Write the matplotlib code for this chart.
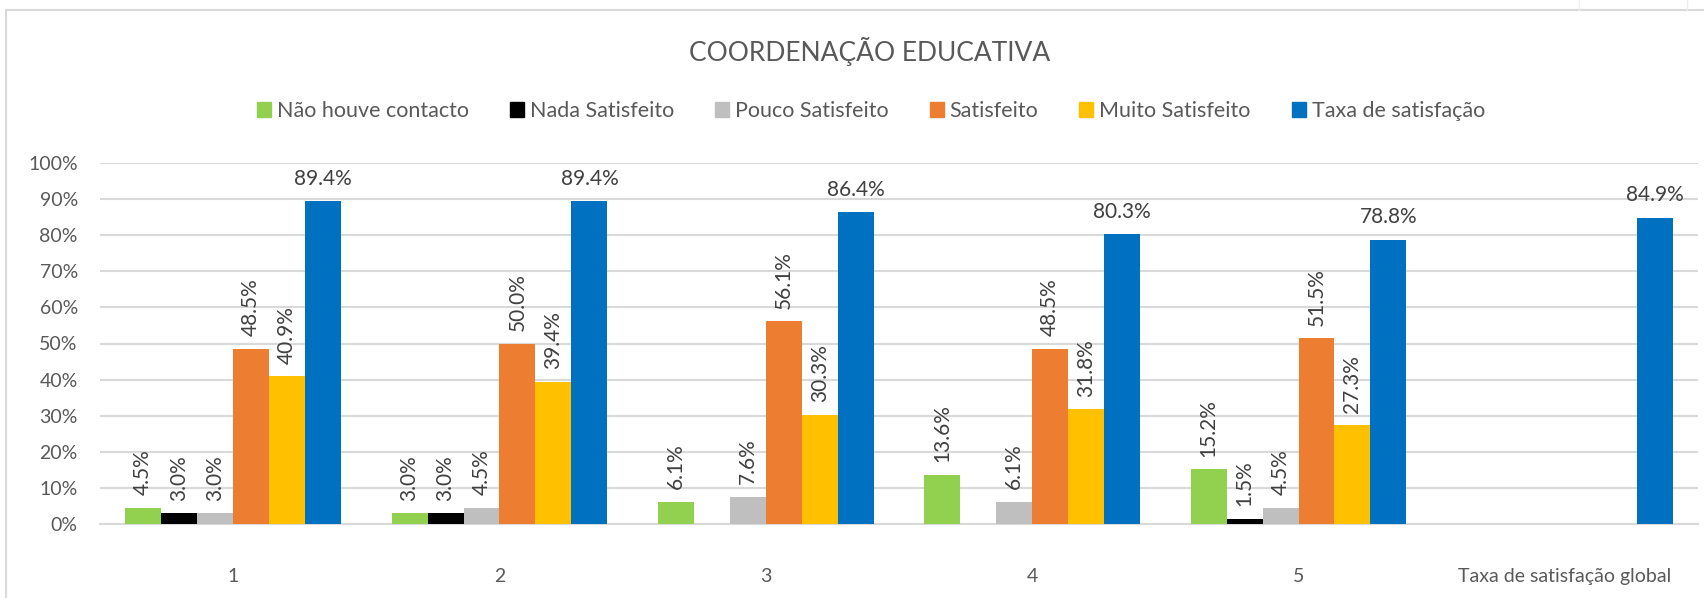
import numpy as np
import matplotlib.pyplot as plt
from matplotlib.patches import Rectangle
from matplotlib.lines import Line2D

plt.rcParams['font.family'] = ['Lato', 'DejaVu Sans']

# data (fractions, None = no bar)
categories = ["1", "2", "3", "4", "5", "Taxa de satisfação global"]
series_names = ["Não houve contacto", "Nada Satisfeito", "Pouco Satisfeito",
                "Satisfeito", "Muito Satisfeito", "Taxa de satisfação"]
nao_houve = [0.045, 0.030, 0.061, 0.136, 0.152, None]
nada = [0.030, 0.030, 0.0, 0.0, 0.015, None]
pouco = [0.030, 0.045, 0.076, 0.061, 0.045, None]
satisfeito = [0.485, 0.500, 0.561, 0.485, 0.515, None]
muito = [0.409, 0.394, 0.303, 0.318, 0.273, None]
taxa = [0.894, 0.894, 0.864, 0.803, 0.788, 0.849]
colors = ["#92D050", "#000000", "#BFBFBF", "#ED7D31", "#FFC000", "#0070C0"]

all_series = [nao_houve, nada, pouco, satisfeito, muito, taxa]

W, H = 1704, 598
fig = plt.figure(figsize=(W / 100, H / 100), dpi=100)
ax = fig.add_axes([100 / W, 74 / H, 1598 / W, 361 / H])

txt_col = "#404040"
grid_col = "#D9D9D9"
n = len(all_series)
bw = 0.135
x = np.arange(len(categories))

for i, (vals, col) in enumerate(zip(all_series, colors)):
    off = (i - (n - 1) / 2) * bw
    for j, v in enumerate(vals):
        if v is None:
            continue
        ax.bar(x[j] + off, v, bw, color=col, zorder=3)
        if v == 0:
            continue
        lab = f"{v * 100:.1f}%"
        rot = 0 if i == n - 1 else 90
        ax.annotate(lab, (x[j] + off, v), xytext=(0, 9), textcoords="offset points",
                    ha="center", va="bottom", rotation=rot, fontsize=15, color=txt_col)

ax.set_xlim(-0.5, len(categories) - 0.5)
ax.set_ylim(0, 1.0)
ax.set_yticks(np.arange(0, 1.01, 0.1))
ax.set_yticklabels([f"{int(round(t * 100))}%" for t in np.arange(0, 1.01, 0.1)])
ax.set_xticks(x)
ax.set_xticklabels(categories)
ax.tick_params(axis="x", length=0, pad=32, labelsize=14, labelcolor="#595959")
ax.tick_params(axis="y", length=0, pad=16, labelsize=14, labelcolor="#595959")
ax.grid(axis="y", color=grid_col, linewidth=1.5, zorder=0)
for s in ["top", "right", "left"]:
    ax.spines[s].set_visible(False)
ax.spines["bottom"].set_color(grid_col)
ax.spines["bottom"].set_linewidth(1.5)

fig.text(870 / W, 1 - 51 / H, "COORDENAÇÃO EDUCATIVA", ha="center", va="center",
         fontsize=19, color="#595959")

handles = [Rectangle((0, 0), 1, 1, color=c) for c in colors]
fig.legend(handles, series_names, loc="center", bbox_to_anchor=(871 / W, 1 - 111 / H),
           ncol=6, frameon=False, fontsize=15.5, handlelength=0.65, handleheight=0.65,
           handletextpad=0.28, columnspacing=1.9, labelcolor="#595959")

# chart frame and cut-off box at the top right
fig.add_artist(Line2D([6 / W, 6 / W], [0, 1 - 10 / H], color=grid_col, lw=1.5))
fig.add_artist(Line2D([6 / W, 1], [1 - 10 / H, 1 - 10 / H], color=grid_col, lw=1.5))
fig.add_artist(Line2D([1579 / W, 1579 / W], [1 - 10 / H, 1], color="#EEEEEE", lw=1))
fig.add_artist(Line2D([1687 / W, 1687 / W], [1 - 10 / H, 1], color="#EEEEEE", lw=1))
fig.text(1633 / W, 1 + 4 / H, "UNIDADE", ha="center", va="center", fontsize=11,
         color="#595959")

fig.savefig("out.png", dpi=100)
